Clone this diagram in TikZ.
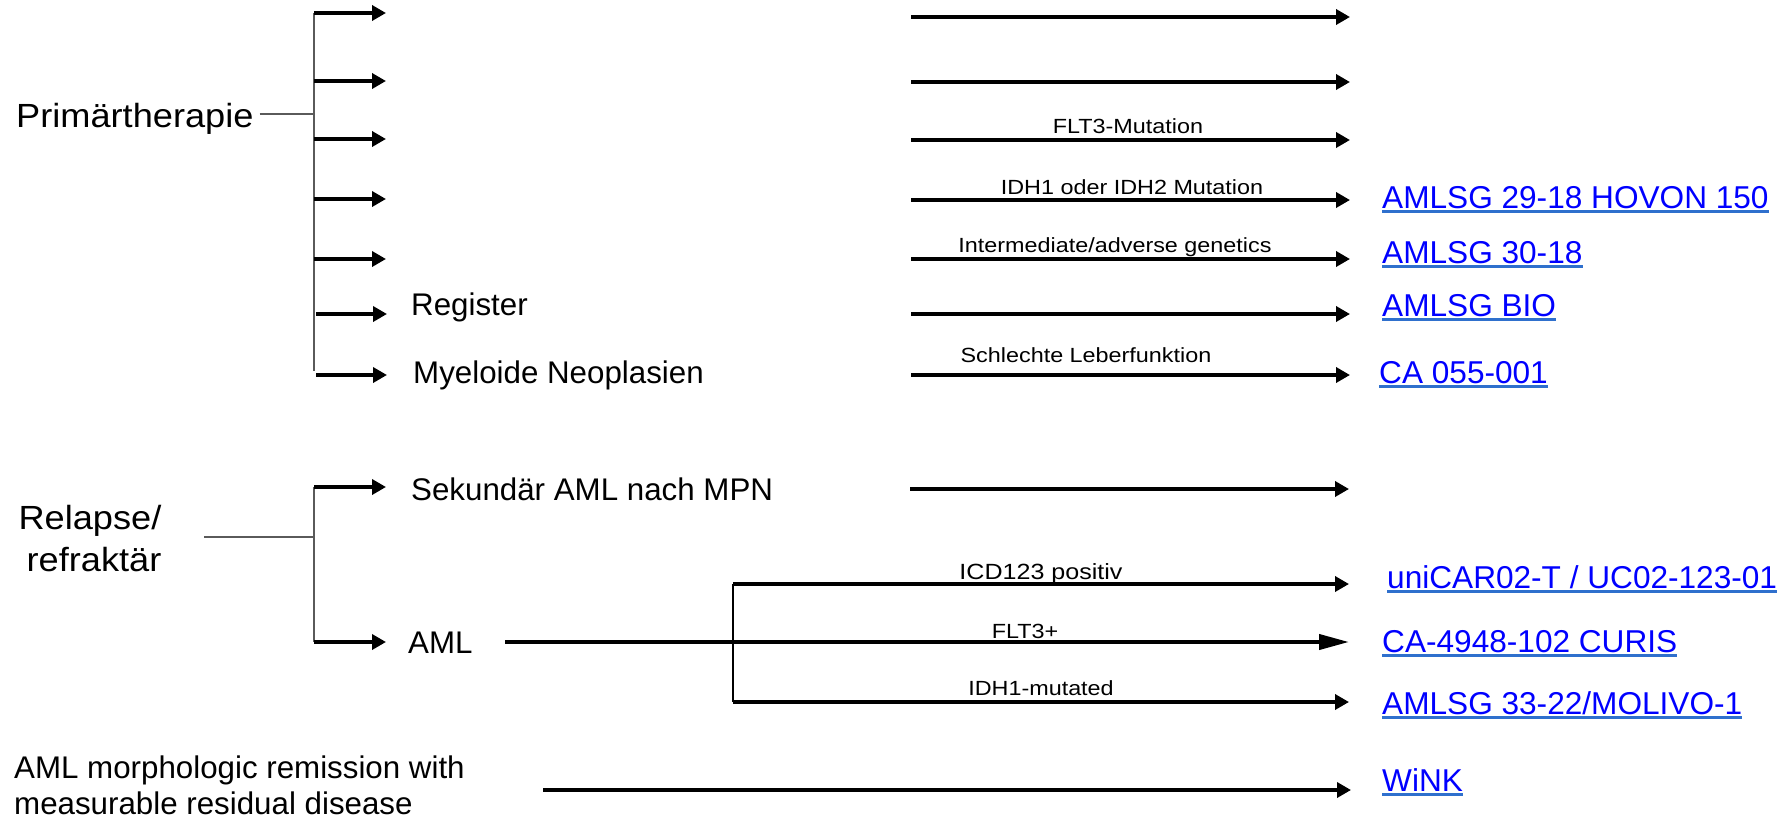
\documentclass[tikz,border=0pt]{standalone}
\usepackage{fontspec}
\setmainfont{Liberation Sans}
\newfontfamily\lsA[FakeStretch=1.14]{Liberation Sans}
\newfontfamily\lsB[FakeStretch=1.08]{Liberation Sans}
\usetikzlibrary{arrows.meta}
\definecolor{linkblue}{RGB}{0,0,255}
\definecolor{ulblue}{RGB}{47,112,205}
\definecolor{brgray}{RGB}{90,90,90}
\begin{document}
\begin{tikzpicture}[x=1pt,y=-1pt,
  bigt/.style={font=\lsB\fontsize{33.5}{40}\selectfont, inner sep=0pt, anchor=base west},
  midt/.style={font=\fontsize{31.3}{38}\selectfont, inner sep=0pt, anchor=base west},
  smallt/.style={font=\lsA\fontsize{20.5}{24}\selectfont, inner sep=0pt, anchor=base},
  linkt/.style={font=\fontsize{31.6}{38}\selectfont, text=linkblue, inner sep=0pt, anchor=base west},
  brline/.style={draw=brgray, line width=2pt},
  subline/.style={draw=black, line width=1.5pt},
  arr/.style={draw=black, line width=4pt, -{Triangle[length=14pt,width=15pt]}},
  longarr/.style={draw=black, line width=4pt, -{Triangle[length=30pt,width=15pt]}},
  uline/.style={draw=ulblue, line width=2.5pt}]
\useasboundingbox (0,0) rectangle (1780,819);

% ---------- Primaertherapie ----------
\node[bigt] (prim) at (16,127) {Primärtherapie};
\coordinate (pj) at (314,114);
\draw[brline] (prim.east |- pj) ++(6,0) -- (pj);

\coordinate (b0) at (314,13);
\coordinate (b1) at (314,81);
\coordinate (b2) at (314,139);
\coordinate (b3) at (314,199);
\coordinate (b4) at (314,259);
\coordinate (b5) at (316,314);
\coordinate (b6) at (316,375);
\coordinate (bend) at (314,371);
\coordinate (a0) at (386,13);
\coordinate (a1) at (386,81);
\coordinate (a2) at (386,139);
\coordinate (a3) at (386,199);
\coordinate (a4) at (386,259);
\coordinate (a5) at (387,314);
\coordinate (a6) at (387,375);
\draw[brline] (b0) -- (bend);
\draw[arr] (b0) -- (a0);
\draw[arr] (b1) -- (a1);
\draw[arr] (b2) -- (a2);
\draw[arr] (b3) -- (a3);
\draw[arr] (b4) -- (a4);
\draw[arr] (b5) -- (a5);
\draw[arr] (b6) -- (a6);
\node[midt] (reg) at (411,315) {Register};
\node[midt] (mye) at (413,383) {Myeloide Neoplasien};

% middle arrows (top block)
\coordinate (m0s) at (911,17);  \coordinate (m0e) at (1350,17);
\coordinate (m1s) at (911,82);  \coordinate (m1e) at (1350,82);
\coordinate (m2s) at (911,140); \coordinate (m2e) at (1350,140);
\coordinate (m3s) at (911,200); \coordinate (m3e) at (1350,200);
\coordinate (m4s) at (911,259); \coordinate (m4e) at (1350,259);
\coordinate (m5s) at (911,314); \coordinate (m5e) at (1350,314);
\coordinate (m6s) at (911,375); \coordinate (m6e) at (1350,375);
\draw[arr] (m0s) -- (m0e);
\draw[arr] (m1s) -- (m1e);
\draw[arr] (m2s) -- (m2e);
\draw[arr] (m3s) -- (m3e);
\draw[arr] (m4s) -- (m4e);
\draw[arr] (m5s) -- (m5e);
\draw[arr] (m6s) -- (m6e);

\node[smallt] (lflt) at (1128,133) {FLT3-Mutation};
\node[smallt] (lidh) at (1132,194) {IDH1 oder IDH2 Mutation};
\node[smallt] (lint) at (1115,252) {Intermediate/adverse genetics};
\node[smallt] (lleb) at (1086,362) {Schlechte Leberfunktion};

\node[linkt] (k1) at (1382,208) {AMLSG 29-18 HOVON 150};
\node[linkt] (k2) at (1382,263) {AMLSG 30-18};
\node[linkt] (k3) at (1382,316) {AMLSG BIO};
\node[linkt] (k4) at (1379,383) {CA 055-001};

% ---------- Relapse ----------
\node[bigt, anchor=base] (rel1) at (90,529) {Relapse/};
\node[bigt, anchor=base] (rel2) at (94,571) {refraktär};
\coordinate (rc) at (204,537);
\coordinate (rj) at (314,537);
\draw[brline] (rc) -- (rj);
\coordinate (r0) at (314,487);
\coordinate (r1) at (314,642);
\coordinate (ra0) at (386,487);
\coordinate (ra1) at (386,642);
\draw[brline] (r0) -- (r1);
\draw[arr] (r0) -- (ra0);
\draw[arr] (r1) -- (ra1);
\node[midt] (sek) at (411,500) {Sekundär AML nach MPN};
\node[midt] (aml) at (408,653) {AML};

\coordinate (s0) at (910,489); \coordinate (s1) at (1349,489);
\draw[arr] (s0) -- (s1);

\coordinate (al) at (505,642); \coordinate (ale) at (1349,642);
\draw[longarr] (al) -- (ale);

\coordinate (sb0) at (733,584); \coordinate (sb1) at (733,702);
\coordinate (se0) at (1349,584); \coordinate (se1) at (1349,702);
\draw[subline] (sb0) -- (sb1);
\draw[arr] (sb0) -- (se0);
\draw[arr] (sb1) -- (se1);

\node[smallt, font=\lsA\fontsize{22}{26}\selectfont] (licd) at (1041,579) {ICD123 positiv};
\node[smallt] (lflt2) at (1025,638) {FLT3+};
\node[smallt] (lidh1) at (1041,695) {IDH1-mutated};

\node[linkt] (k5) at (1387,588) {uniCAR02-T / UC02-123-01};
\node[linkt] (k6) at (1382,652) {CA-4948-102 CURIS};
\node[linkt] (k7) at (1382,714) {AMLSG 33-22/MOLIVO-1};

% ---------- MRD ----------
\node[midt] (mrd1) at (14,778) {AML morphologic remission with};
\node[midt] (mrd2) at (14,814) {measurable residual disease};
\coordinate (w0) at (543,790); \coordinate (w1) at (1351,790);
\draw[arr] (w0) -- (w1);
\node[linkt] (k8) at (1382,791) {WiNK};

% underlines of the links
\foreach \k in {k1,k2,k3,k4,k5,k6,k7,k8}
  \draw[uline] ([yshift=-3.5pt]\k.base west) -- ([yshift=-3.5pt]\k.base east);
\end{tikzpicture}
\end{document}
